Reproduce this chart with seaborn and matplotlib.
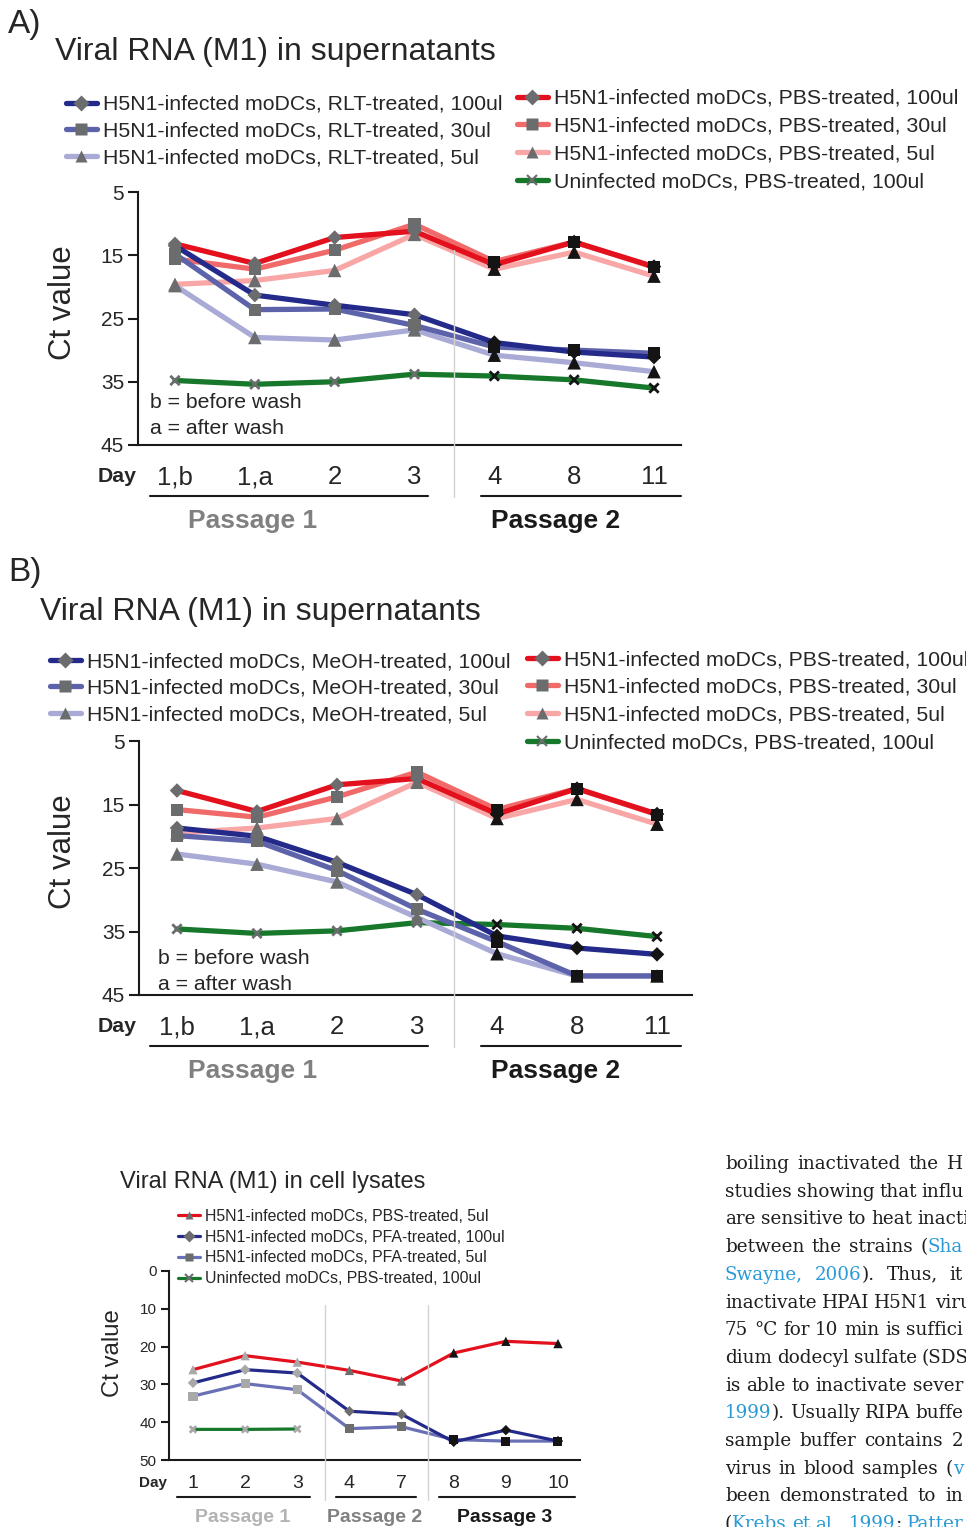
import matplotlib
matplotlib.use("Agg")
import matplotlib.pyplot as plt
import pandas as pd
import seaborn as sns
from matplotlib.lines import Line2D

W, H = 966, 1527

# ---- x categories ----
sup_days = ["1,b", "1,a", "2", "3", "4", "8", "11"]
sup_passage = [1, 1, 1, 1, 2, 2, 2]
lys_days = ["1", "2", "3", "4", "7", "8", "9", "10"]
lys_passage = [1, 1, 1, 2, 2, 3, 3, 3]

# ---- panel A: supernatants, RLT ----
a_rlt_100 = [13.5, 21.3, 22.9, 24.4, 28.8, 30.3, 31.1]
a_rlt_30 = [14.8, 23.6, 23.5, 26.1, 29.5, 30.0, 30.5]
a_rlt_5 = [19.8, 28.0, 28.4, 26.8, 30.8, 32.0, 33.4]
a_pbs_100 = [13.2, 16.3, 12.2, 11.2, 16.5, 12.9, 16.8]
a_pbs_30 = [15.6, 17.2, 14.2, 10.1, 16.0, 12.9, 16.9]
a_pbs_5 = [19.6, 19.0, 17.4, 11.7, 17.2, 14.5, 18.3]
a_uninf = [34.8, 35.4, 35.0, 33.8, 34.1, 34.7, 36.0]

# ---- panel B: supernatants, MeOH ----
b_meoh_100 = [18.7, 20.0, 24.1, 29.2, 35.7, 37.6, 38.6]
b_meoh_30 = [19.9, 20.8, 25.4, 31.5, 36.6, 42.0, 42.0]
b_meoh_5 = [22.8, 24.4, 27.2, 32.8, 38.5, 42.0, 42.0]
b_pbs_100 = [12.8, 16.1, 11.9, 10.9, 16.5, 12.5, 16.5]
b_pbs_30 = [15.8, 17.0, 13.8, 9.9, 15.8, 12.5, 16.6]
b_pbs_5 = [19.5, 18.7, 17.2, 11.5, 17.2, 14.2, 18.1]
b_uninf = [34.6, 35.3, 34.9, 33.6, 33.9, 34.5, 35.8]

# ---- panel C: cell lysates ----
c_pbs_5 = [26.1, 22.4, 24.1, 26.3, 29.1, 21.7, 18.6, 19.2]
c_pfa_100 = [29.6, 26.1, 27.0, 37.1, 37.9, 45.2, 42.1, 45.0]
c_pfa_5 = [33.1, 29.8, 31.4, 41.7, 41.2, 44.6, 45.0, 45.0]
c_uninf = [41.9, 41.9, 41.8]

a_labels = ["H5N1-infected moDCs, RLT-treated, 100ul",
            "H5N1-infected moDCs, RLT-treated, 30ul",
            "H5N1-infected moDCs, RLT-treated, 5ul",
            "H5N1-infected moDCs, PBS-treated, 100ul",
            "H5N1-infected moDCs, PBS-treated, 30ul",
            "H5N1-infected moDCs, PBS-treated, 5ul",
            "Uninfected moDCs, PBS-treated, 100ul"]
b_labels = [s.replace("RLT", "MeOH") for s in a_labels]
c_labels = ["H5N1-infected moDCs, PBS-treated, 5ul",
            "H5N1-infected moDCs, PFA-treated, 100ul",
            "H5N1-infected moDCs, PFA-treated, 5ul",
            "Uninfected moDCs, PBS-treated, 100ul"]

para_lines = [
    [("boiling inactivated the H", "k")],
    [("studies showing that influ", "k")],
    [("are sensitive to heat inacti", "k")],
    [("between the strains (", "k"), ("Sha", "b")],
    [("Swayne, 2006", "b"), ("). Thus, it", "k")],
    [("inactivate HPAI H5N1 viru", "k")],
    [("75 \u00b0C for 10 min is suffici", "k")],
    [("dium dodecyl sulfate (SDS", "k")],
    [("is able to inactivate sever", "k")],
    [("1999", "b"), ("). Usually RIPA buffe", "k")],
    [("sample buffer contains 2", "k")],
    [("virus in blood samples (", "k"), ("v", "b")],
    [("been demonstrated to in", "k")],
    [("(", "k"), ("Krebs et al., 1999", "b"), ("; ", "k"), ("Patter", "b")],
]

RED, SALMON, PINK = "#e3101e", "#f16a6a", "#f8a6a6"
NAVY, MIDBLUE, LIGHTBLUE = "#232a8a", "#5d63ab", "#a9abd6"
GREEN = "#17782b"
MK_GRAY, MK_BLACK = "#6b6c6e", "#141414"
sup_colors = [NAVY, MIDBLUE, LIGHTBLUE, RED, SALMON, PINK, GREEN]
sup_markers = ["D", "s", "^", "D", "s", "^", "x"]
sup_order = [6, 5, 4, 3, 2, 1, 0]
c_colors = [RED, NAVY, "#6a70b6", GREEN]
c_markers = ["^", "D", "s", "x"]
c_order = [3, 2, 1, 0]

sns.set_style("white")
plt.rcParams["font.family"] = ["Liberation Sans", "DejaVu Sans"]

fig = plt.figure(figsize=(W / 100, H / 100), dpi=100)


def px_axes(left, top, right, bottom):
    return fig.add_axes([left / W, 1 - bottom / H, (right - left) / W, (bottom - top) / H])


def fig_text(x, y, s, **kw):
    kw.setdefault("va", "center")
    return fig.text(x / W, 1 - y / H, s, **kw)


def fig_line(x0, y0, x1, y1, color, lw):
    fig.add_artist(Line2D([x0 / W, x1 / W], [1 - y0 / H, 1 - y1 / H],
                          transform=fig.transFigure, color=color, lw=lw))


def plot_panel(ax, days, passages, labels, values, colors, markers, order,
               lw, sizes, mk_colors):
    frames = []
    for name, vals in zip(labels, values):
        frames.append(pd.DataFrame({"pos": range(len(vals)), "ct": vals, "series": name}))
    df = pd.concat(frames, ignore_index=True)
    sns.lineplot(data=df, x="pos", y="ct", hue="series",
                 hue_order=[labels[i] for i in order],
                 palette=dict(zip(labels, colors)), linewidth=lw, sort=False,
                 errorbar=None, legend=False, ax=ax, zorder=2)
    for i in order:
        sub = df[df["series"] == labels[i]]
        cols = [mk_colors[passages[p]] for p in sub["pos"]]
        m = markers[i]
        if m == "x":
            ax.scatter(sub["pos"], sub["ct"], marker="x", c=cols, s=sizes[m],
                       linewidths=2, zorder=3)
        else:
            ax.scatter(sub["pos"], sub["ct"], marker=m, c=cols, s=sizes[m],
                       edgecolors="none", zorder=3)
    ax.set_xticks(range(len(days)))
    ax.set_xticklabels(days)
    ax.set_xlabel("")
    sns.despine(ax=ax)
    for side in ["left", "bottom"]:
        ax.spines[side].set_linewidth(1.5)
        ax.spines[side].set_color("#1a1a1a")


def make_legend(handles, labels, x, y, size, hlen, spacing):
    fig.legend(handles, labels, loc="upper left", bbox_to_anchor=(x / W, 1 - y / H),
               frameon=False, borderpad=0, borderaxespad=0, handlelength=hlen,
               handletextpad=0.3, labelspacing=spacing, prop={"size": size})


def legend_handles(colors, markers, lw, ms):
    hs = []
    for c, m in zip(colors, markers):
        if m == "x":
            hs.append(Line2D([], [], color=c, lw=lw, marker="x", markersize=ms * 0.9,
                             markeredgecolor=MK_GRAY, markeredgewidth=1.5))
        else:
            hs.append(Line2D([], [], color=c, lw=lw, marker=m, markersize=ms,
                             markerfacecolor=MK_GRAY, markeredgecolor="none"))
    return hs


sup_sizes = {"D": 55, "s": 75, "^": 95, "x": 45}


def supernatant_panel(letter, ly, title_x, title_y, axbox, values, labels,
                      leg_left, leg_right, wash_xy, x0px, step):
    fig_text(8, ly, letter, fontsize=24, ha="left")
    fig_text(title_x, title_y, "Viral RNA (M1) in supernatants", fontsize=23, ha="left")
    left, top, right, bottom = axbox
    ax = px_axes(left, top, right, bottom)
    plot_panel(ax, sup_days, sup_passage, labels, values, sup_colors, sup_markers,
               sup_order, 3.8, sup_sizes, {1: MK_GRAY, 2: MK_BLACK})
    ax.set_xlim((left - x0px) / step, (right - x0px) / step)
    ax.set_ylim(45, 5)
    ax.set_yticks([5, 15, 25, 35, 45])
    ax.tick_params(axis="y", length=7, width=1.5, direction="out", labelsize=15,
                   pad=3, left=True, color="#1a1a1a")
    ax.tick_params(axis="x", length=0, labelsize=18.5, pad=14.5)
    ax.set_ylabel("Ct value", fontsize=22.5, va="center")
    ax.yaxis.set_label_coords((63 - left) / (right - left), (bottom - (top + bottom) / 2 + 16) / (bottom - top))
    hs = legend_handles(sup_colors, sup_markers, 3.8, 8)
    make_legend(hs[:3], labels[:3], leg_left[0], leg_left[1], 15.3, 1.45, 0.37)
    make_legend(hs[3:], labels[3:], leg_right[0], leg_right[1], 15.3, 1.45, 0.41)
    fig_text(wash_xy[0], wash_xy[1], "b = before wash", fontsize=15.3, ha="left")
    fig_text(wash_xy[0], wash_xy[1] + 26, "a = after wash", fontsize=15.3, ha="left")
    # day row, passage underlines and separator
    fig_text(117, bottom + 31, "Day", fontsize=15.3, fontweight="bold", ha="center")
    fig_line(150, bottom + 51, 428, bottom + 51, "#1a1a1a", 1.5)
    fig_line(481, bottom + 51, 681, bottom + 51, "#1a1a1a", 1.5)
    fig_line(454, bottom - 195, 454, bottom + 52, "#d2d2d2", 1.0)
    fig_text(253, bottom + 76, "Passage 1", fontsize=19, fontweight="bold",
             color="#808080", ha="center")
    fig_text(556, bottom + 76, "Passage 2", fontsize=19, fontweight="bold",
             color="#1a1a1a", ha="center")


supernatant_panel("A)", 25, 55, 52, (138, 192, 681, 445),
                  [a_rlt_100, a_rlt_30, a_rlt_5, a_pbs_100, a_pbs_30, a_pbs_5, a_uninf],
                  a_labels, (66, 95), (517, 89), (150, 403), 175, 79.83)
supernatant_panel("B)", 572, 40, 612, (139, 741, 692, 995),
                  [b_meoh_100, b_meoh_30, b_meoh_5, b_pbs_100, b_pbs_30, b_pbs_5, b_uninf],
                  b_labels, (50, 652), (527, 650), (158, 959), 177, 80.0)

# ---- panel C ----
fig_text(120, 1182, "Viral RNA (M1) in cell lysates", fontsize=17, ha="left")
left, top, right, bottom = 169, 1271, 580, 1460
axc = px_axes(left, top, right, bottom)
plot_panel(axc, lys_days, lys_passage, c_labels, [c_pbs_5, c_pfa_100, c_pfa_5, c_uninf],
           c_colors, c_markers, c_order, 2.3, {"D": 28, "s": 42, "^": 45, "x": 22},
           {1: "#a8a8a8", 2: "#6d6d6d", 3: MK_BLACK})
axc.set_xlim((left - 193) / 52.14, (right - 193) / 52.14)
axc.set_ylim(50, 0)
axc.set_yticks([0, 10, 20, 30, 40, 50])
axc.tick_params(axis="y", length=6, width=1.5, direction="out", labelsize=11,
                pad=3, left=True, color="#1a1a1a")
axc.tick_params(axis="x", length=0, labelsize=14, pad=11)
axc.set_ylabel("Ct value", fontsize=17.3, va="center")
axc.yaxis.set_label_coords((113 - left) / (right - left), (bottom - 1353) / (bottom - top))
hs = legend_handles(c_colors, c_markers, 2.3, 6)
make_legend(hs, c_labels, 178, 1209, 11.4, 1.4, 0.36)
fig_text(153, 1483, "Day", fontsize=11, fontweight="bold", ha="center")
fig_line(177, 1497, 310, 1497, "#1a1a1a", 1.5)
fig_line(336, 1497, 416, 1497, "#1a1a1a", 1.5)
fig_line(439, 1497, 575, 1497, "#1a1a1a", 1.5)
fig_line(325, 1305, 325, 1500, "#d2d2d2", 1.0)
fig_line(428, 1305, 428, 1500, "#d2d2d2", 1.0)
fig_text(243, 1517, "Passage 1", fontsize=14, fontweight="bold", color="#b3b3b3", ha="center")
fig_text(375, 1517, "Passage 2", fontsize=14, fontweight="bold", color="#808080", ha="center")
fig_text(505, 1517, "Passage 3", fontsize=14, fontweight="bold", color="#1a1a1a", ha="center")

# ---- body text on the right (justified, cut at page edge) ----
renderer = fig.canvas.get_renderer()
para_colors = {"k": "#1e1e1e", "b": "#2a9ad6"}
para_left, para_right = 725, 963
for row, segments in enumerate(para_lines):
    y = 1164 + row * 27.7
    words = [[]]
    for text, ck in segments:
        for j, part in enumerate(text.split(" ")):
            if j > 0:
                words.append([])
            if part:
                words[-1].append((part, ck))
    words = [w for w in words if w]
    pieces = []
    widths = []
    for w in words:
        ww = 0
        wp = []
        for part, ck in w:
            t = fig_text(0, y, part, fontsize=13.2, family="DejaVu Serif",
                         color=para_colors[ck], ha="left")
            pw = t.get_window_extent(renderer).width
            wp.append((t, pw))
            ww += pw
        pieces.append(wp)
        widths.append(ww)
    gap = 5.0
    if len(words) > 1:
        gap = max(5.0, (para_right - para_left - sum(widths)) / (len(words) - 1))
    x = para_left
    for wp, ww in zip(pieces, widths):
        xx = x
        for t, pw in wp:
            t.set_x(xx / W)
            xx += pw
        x += ww + gap

fig.savefig("out.png", dpi=100)
